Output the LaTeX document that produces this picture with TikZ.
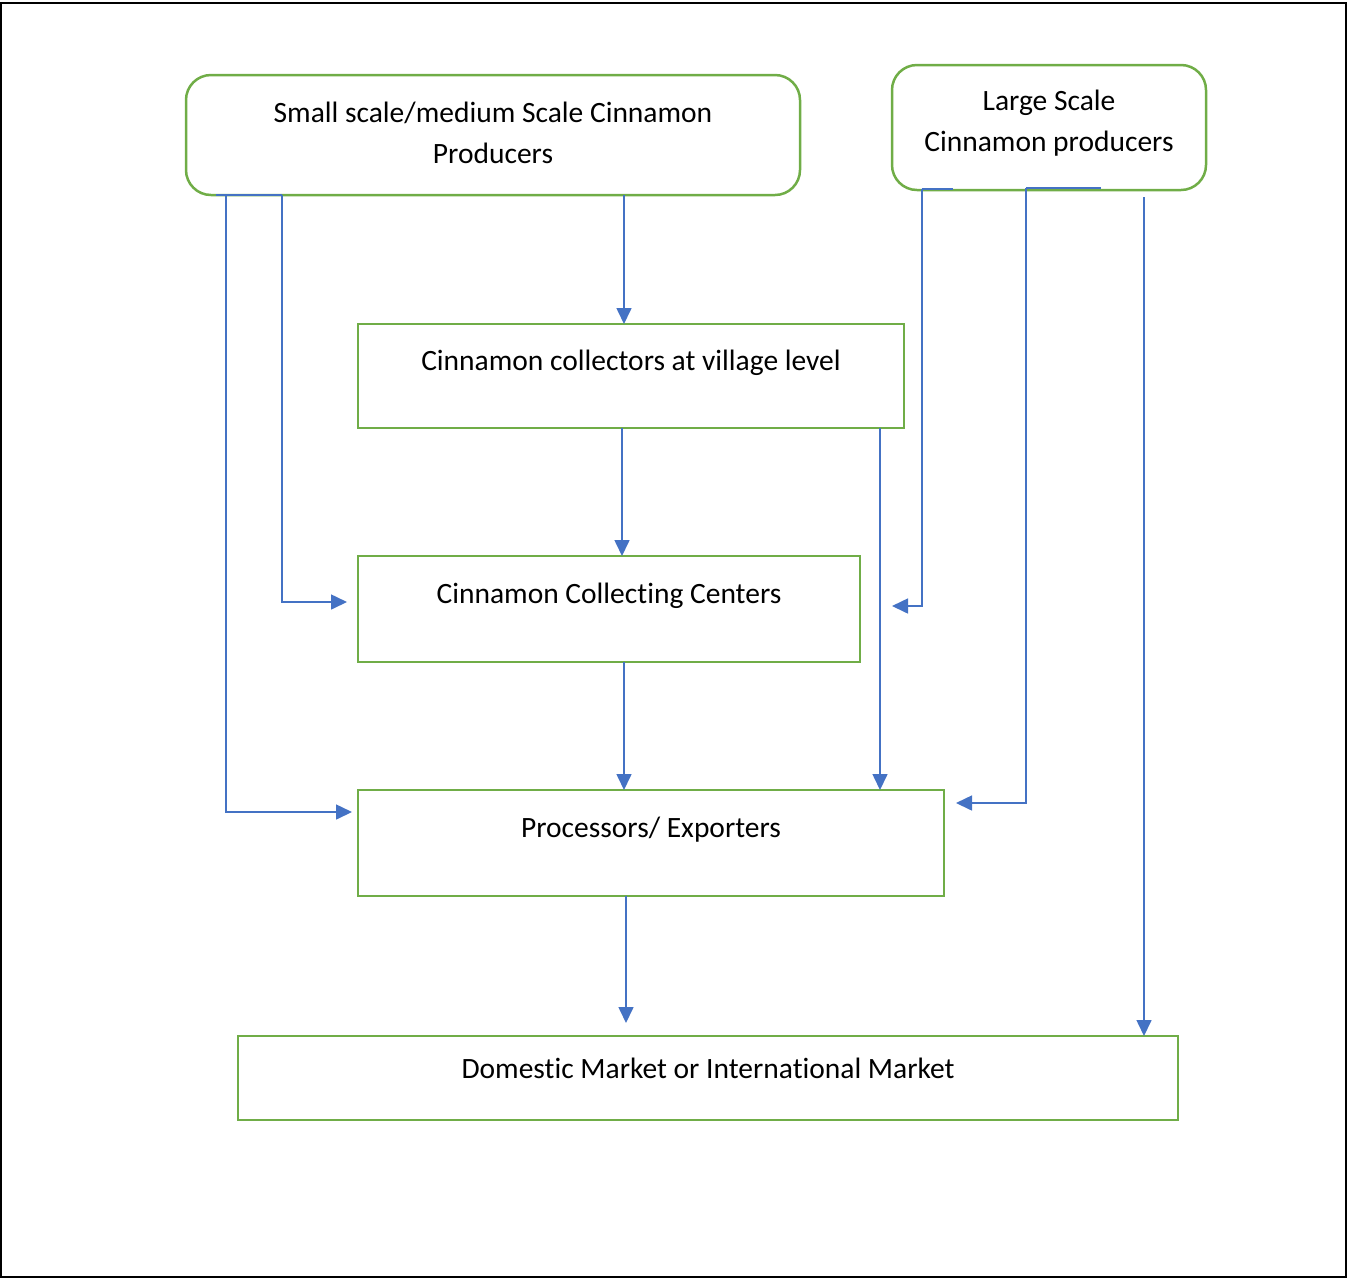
\documentclass[tikz,border=0pt]{standalone}
\usepackage{fontspec}
\setmainfont{Carlito}[Ligatures={NoCommon}]
\usetikzlibrary{arrows.meta}
\definecolor{gr}{HTML}{70AD47}
\definecolor{bl}{HTML}{4472C4}
\begin{document}
\begin{tikzpicture}[x=1pt,y=-1pt,
  box/.style={draw=gr, line width=2.5pt, inner sep=0pt, outer sep=0pt, anchor=north west},
  rbox/.style={box, rounded corners=25pt},
  lab/.style={font=\fontsize{29.5}{41}\selectfont, align=center, inner sep=0pt},
  conn/.style={draw=bl, line width=1.6pt},
  arr/.style={conn, -{Triangle[length=16pt,width=15pt]}}]
\useasboundingbox (0,0) rectangle (1354,1278);
\draw[line width=1.5pt] (1,3) rectangle (1346,1277);
% boxes
\node[rbox, minimum width=614pt, minimum height=120pt] (A) at (186,75) {};
\node[rbox, minimum width=314pt, minimum height=125pt] (B) at (892,65) {};
\node[box, minimum width=546pt, minimum height=104pt] (C) at (358,324) {};
\node[box, minimum width=502pt, minimum height=106pt] (D) at (358,556) {};
\node[box, minimum width=586pt, minimum height=106pt] (E) at (358,790) {};
\node[box, minimum width=940pt, minimum height=84pt] (F) at (238,1036) {};
% texts
\node[lab] (At) at (493,133) {Small scale/medium Scale Cinnamon\\Producers};
\node[lab] (Bt) at (1049,123) {Large Scale\\Cinnamon producers};
\node[lab] (Ct) at (631,363) {Cinnamon collectors at village level};
\node[lab] (Dt) at (609,596) {Cinnamon Collecting Centers};
\node[lab] (Et) at (651,830) {Processors/ Exporters};
\node[lab] (Ft) at (708,1068) {Domestic Market or International Market};
% connector coordinates
\coordinate (a1) at (624,0);
\coordinate (a2) at (226,812);
\coordinate (a3) at (282,602);
\coordinate (c1) at (622,0);
\coordinate (c2) at (880,0);
\coordinate (b1) at (922,606);
\coordinate (t1) at (892,606);
\coordinate (b2) at (1026,803);
\coordinate (b3) at (1144,0);
\coordinate (d1) at (624,0);
\coordinate (e1) at (626,0);
\coordinate (s1) at (216,0);
\coordinate (s2) at (953,0);
\coordinate (s3) at (1101,0);
% connectors
\draw[conn] (A.south -| s1) -- (A.south -| a3);
\draw[conn] ([yshift=1pt]B.south -| b1) -- ([yshift=1pt]B.south -| s2);
\draw[conn] ([yshift=2pt]B.south -| b2) -- ([yshift=2pt]B.south -| s3);
\draw[arr] (A.south -| a1) -- (C.north -| a1);
\draw[arr] (A.south -| a2) |- ([xshift=-6pt]E.west |- a2);
\draw[arr] (A.south -| a3) |- ([xshift=-11pt]D.west |- a3);
\draw[arr] (C.south -| c1) -- (D.north -| c1);
\draw[arr] (C.south -| c2) -- (E.north -| c2);
\draw[arr] ([yshift=1pt]B.south -| b1) |- (t1);
\draw[arr] ([yshift=2pt]B.south -| b2) |- ([xshift=12pt]E.east |- b2);
\draw[arr] ([yshift=-7pt]B.south -| b3) -- (F.north -| b3);
\draw[arr] (D.south -| d1) -- (E.north -| d1);
\draw[arr] (E.south -| e1) -- ([yshift=13pt]F.north -| e1);
\end{tikzpicture}
\end{document}
